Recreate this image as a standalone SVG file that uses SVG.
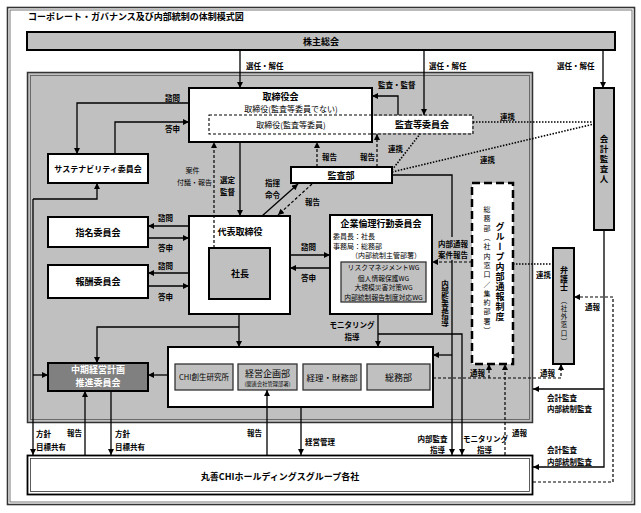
<svg xmlns="http://www.w3.org/2000/svg" width="641" height="513" viewBox="0 0 641 513">
<style>
text { font-family: "Noto Sans CJK JP", "Noto Sans CJK SC", sans-serif; fill:#000; }
.b { font-weight: bold; }
.m { text-anchor: middle; }
.box { fill:#fff; stroke:#000; stroke-width:2; }
.gbox { fill:#c0c0c0; stroke:#000; stroke-width:2; }
.sub { fill:#c0c0c0; stroke:#333; stroke-width:1.3; }
.ln { fill:none; stroke:#000; stroke-width:1.3; }
.dash { fill:none; stroke:#000; stroke-width:1.2; stroke-dasharray:3 2; }
.dot { fill:none; stroke:#000; stroke-width:1.6; stroke-dasharray:1.5 1.5; }
.lbl { font-size:7.5px; font-weight:bold; }
.v { writing-mode: vertical-rl; }
</style>
<defs>
<marker id="ah" viewBox="0 0 10 10" refX="10" refY="5" markerWidth="7" markerHeight="6" markerUnits="userSpaceOnUse" orient="auto">
<path d="M0,0 L10,5 L0,10 z" fill="#000"/>
</marker>
</defs>

<!-- frame -->
<rect x="7.5" y="7.5" width="627" height="497" fill="#fff" stroke="#333" stroke-width="1.6"/>
<rect x="10" y="10" width="622" height="492" fill="none" stroke="#555" stroke-width="0.8"/>
<text x="28" y="20" font-size="9" class="b">コーポレート・ガバナンス及び内部統制の体制模式図</text>

<!-- gray region -->
<rect x="27.5" y="72.5" width="505" height="350" fill="#c0c0c0" stroke="#333" stroke-width="1.5"/>
<rect x="30.5" y="75.5" width="499" height="344" fill="none" stroke="#555" stroke-width="0.8"/>

<g id="shareholders">
<rect x="27" y="32" width="588" height="18" class="gbox"/>
<text x="321" y="44.5" font-size="9" class="b m">株主総会</text>
</g>

<g id="board">
<rect x="189" y="88" width="183" height="54" class="box"/>
<text x="280.5" y="99.5" font-size="9" class="b m">取締役会</text>
<text x="291" y="112" font-size="8" class="m">取締役(監査等委員でない)</text>
</g>

<g id="audit-committee">
<rect x="373" y="116" width="99" height="17" fill="#fff"/>
<rect x="209" y="115" width="264" height="19" fill="none" stroke="#000" stroke-width="1.1" stroke-dasharray="3 2"/>
<text x="291" y="127.5" font-size="8" class="m">取締役(監査等委員)</text>
<text x="422" y="128" font-size="9" class="b m">監査等委員会</text>
</g>

<g id="accounting-auditor">
<rect x="594" y="88" width="20" height="142" class="gbox"/>
<text x="604" y="135" font-size="8.5" class="b v" letter-spacing="1.5">会計監査人</text>
</g>

<g id="sustainability">
<rect x="48" y="154" width="100" height="29" class="box"/>
<text x="98" y="171.5" font-size="8" class="b m">サステナビリティ委員会</text>
</g>

<g id="nomination">
<rect x="48" y="217" width="100" height="30" class="box"/>
<text x="98" y="235.5" font-size="9" class="b m">指名委員会</text>
</g>

<g id="remuneration">
<rect x="48" y="265" width="100" height="33" class="box"/>
<text x="98" y="284.5" font-size="9" class="b m">報酬委員会</text>
</g>

<g id="representative">
<rect x="189" y="216" width="101" height="98" class="box"/>
<text x="240" y="235" font-size="9" class="b m">代表取締役</text>
<rect x="209" y="248" width="61" height="51" class="gbox" stroke-width="1.5"/>
<text x="240" y="277" font-size="9" class="b m">社長</text>
</g>

<g id="audit-dept">
<rect x="291" y="167" width="101" height="16" class="box"/>
<text x="341" y="178.5" font-size="9" class="b m">監査部</text>
</g>

<g id="ethics-committee">
<rect x="330" y="215" width="102" height="99" class="box"/>
<text x="381" y="226.5" font-size="9" class="b m">企業倫理行動委員会</text>
<text x="333" y="238.5" font-size="7">委員長：社長</text>
<text x="333" y="248.5" font-size="7">事務局：総務部</text>
<text x="386" y="258" font-size="7" class="m">（内部統制主管部署）</text>
<rect x="341" y="262" width="85" height="40" class="sub"/>
<text x="383.5" y="270" font-size="6.8" class="m">リスクマネジメントWG</text>
<text x="383.5" y="280.5" font-size="6.8" class="m">個人情報保護WG</text>
<text x="383.5" y="290" font-size="6.8" class="m">大規模災害対策WG</text>
<text x="383.5" y="299.5" font-size="6.8" class="m">内部統制報告制度対応WG</text>
</g>

<g id="midterm-plan">
<rect x="48" y="363" width="100" height="28" fill="#808080" stroke="#000" stroke-width="2"/>
<text x="98" y="373" font-size="9" class="b m" style="fill:#fff">中期経営計画</text>
<text x="98" y="386" font-size="9" class="b m" style="fill:#fff">推進委員会</text>
</g>

<g id="departments">
<rect x="168" y="347" width="265" height="60" class="box"/>
<rect x="175" y="364" width="58" height="26" class="sub"/>
<text x="204" y="380" font-size="7.5" class="m">CHI創生研究所</text>
<rect x="238" y="364" width="59" height="26" class="sub"/>
<text x="267.5" y="376.5" font-size="9" class="m">経営企画部</text>
<text x="267.5" y="386" font-size="5.3" class="m">(関連会社管理部署)</text>
<rect x="303" y="364" width="58" height="26" class="sub"/>
<text x="332" y="380.5" font-size="8.5" class="m">経理・財務部</text>
<rect x="367" y="364" width="63" height="26" class="sub"/>
<text x="398.5" y="380.5" font-size="9" class="m">総務部</text>
</g>

<g id="whistleblowing">
<rect x="472" y="183" width="41" height="181" fill="#fff" stroke="#000" stroke-width="2.5" stroke-dasharray="8 4"/>
<text x="487" y="206" font-size="7" class="v" letter-spacing="2.3">総務部（社内窓口／集約部署）</text>
<text x="500" y="222" font-size="9" class="b v" letter-spacing="1">グループ内部通報制度</text>
</g>

<g id="lawyer">
<rect x="553" y="248" width="21" height="116" class="gbox"/>
<text x="564" y="266" font-size="8" class="b v" letter-spacing="0.5">弁護士</text>
<text x="564" y="297" font-size="6.5" class="v" letter-spacing="1.7">（社外窓口）</text>
</g>

<g id="group-companies">
<rect x="27.5" y="455.5" width="505" height="39" fill="#fff" stroke="#000" stroke-width="1.8"/>
<rect x="30.5" y="458.5" width="499" height="33" fill="none" stroke="#333" stroke-width="0.8"/>
<text x="280" y="479.5" font-size="9" class="b m">丸善CHIホールディングスグループ各社</text>
</g>

<g id="connectors">
<!-- shareholders -->
<path d="M240,50 V88" class="ln" marker-end="url(#ah)"/>
<path d="M424,50 V115" class="ln" marker-end="url(#ah)"/>
<path d="M603,50 V88" class="ln" marker-end="url(#ah)"/>
<text x="246" y="69" class="lbl">選任・解任</text>
<text x="429" y="69" class="lbl">選任・解任</text>
<text x="557" y="69" class="lbl">選任・解任</text>
<!-- audit committee -->
<path d="M398,115 V96 H372" class="ln" marker-end="url(#ah)"/>
<text x="378" y="88" class="lbl">監査・監督</text>
<path d="M473,122 H594" class="dot"/>
<text x="500" y="120" class="lbl">連携</text>
<path d="M392,172 L594,124" class="dot"/>
<text x="480" y="163" class="lbl">連携</text>
<path d="M392,170 L420,134" class="dot"/>
<text x="388" y="152" class="lbl">連携</text>
<!-- audit dept reports -->
<path d="M317,167 V142" class="dash" marker-end="url(#ah)"/>
<text x="322" y="160" class="lbl">報告</text>
<path d="M377,167 V134" class="dash" marker-end="url(#ah)"/>
<text x="360" y="160" class="lbl">報告</text>
<!-- board <-> representative -->
<path d="M214,248 V142" class="dash" marker-end="url(#ah)"/>
<text x="192.5" y="173" font-size="7" class="m">案件</text>
<text x="194.5" y="184.5" font-size="7" class="m">付議・報告</text>
<path d="M240,142 V216" class="ln" marker-end="url(#ah)"/>
<text x="220" y="183" class="lbl">選定</text>
<text x="220" y="194.5" class="lbl">監督</text>
<path d="M262,216 L298,184" class="ln" marker-end="url(#ah)"/>
<text x="265" y="186" class="lbl">指揮</text>
<text x="265" y="197.5" class="lbl">命令</text>
<path d="M312,184 L278,215" class="dash" marker-end="url(#ah)"/>
<text x="305" y="205" class="lbl">報告</text>
<!-- sustainability -->
<path d="M189,103 H77 V154" class="ln" marker-end="url(#ah)"/>
<text x="165" y="101" class="lbl">諮問</text>
<path d="M115,154 V122 H189" class="ln" marker-end="url(#ah)"/>
<text x="165" y="131.5" class="lbl">答申</text>
<path d="M33,199 H97 V183" class="ln" marker-end="url(#ah)"/>
<path d="M33,199 V455" class="ln" marker-end="url(#ah)"/>
<path d="M33,375 H48" class="ln" marker-end="url(#ah)"/>
<text x="36" y="437" class="lbl">方針</text>
<text x="36" y="450" class="lbl">目標共有</text>
<!-- nomination / remuneration -->
<path d="M189,226 H148" class="ln" marker-end="url(#ah)"/>
<text x="158" y="221" class="lbl">諮問</text>
<path d="M148,238 H189" class="ln" marker-end="url(#ah)"/>
<text x="158" y="251" class="lbl">答申</text>
<path d="M189,273 H148" class="ln" marker-end="url(#ah)"/>
<text x="158" y="268.5" class="lbl">諮問</text>
<path d="M148,286 H189" class="ln" marker-end="url(#ah)"/>
<text x="158" y="300" class="lbl">答申</text>
<!-- ethics committee -->
<path d="M290,255 H330" class="ln" marker-end="url(#ah)"/>
<text x="301" y="250" class="lbl">諮問</text>
<path d="M330,268 H290" class="ln" marker-end="url(#ah)"/>
<text x="301" y="281" class="lbl">答申</text>
<!-- representative -> departments / midterm -->
<path d="M239,314 V347" class="ln" marker-end="url(#ah)"/>
<path d="M239,327 H97 V363" class="ln" marker-end="url(#ah)"/>
<path d="M168,375 H148" class="ln" marker-end="url(#ah)"/>
<!-- midterm <-> group -->
<path d="M111,391 V455" class="ln" marker-end="url(#ah)"/>
<text x="115" y="437" class="lbl">方針</text>
<text x="115" y="450" class="lbl">目標共有</text>
<path d="M85,455 V391" class="ln" marker-end="url(#ah)"/>
<text x="67" y="436" class="lbl">報告</text>
<path d="M267,455 V390" class="ln" marker-end="url(#ah)"/>
<text x="247" y="436" class="lbl">報告</text>
<path d="M301,407 V455" class="ln" marker-end="url(#ah)"/>
<text x="305" y="445" class="lbl">経営管理</text>
<!-- monitoring -->
<path d="M378,314 V347" class="ln" marker-end="url(#ah)"/>
<text x="352" y="328" class="lbl m">モニタリング</text>
<text x="352" y="339.5" class="lbl m">指導</text>
<path d="M378,334 H462 V455" class="ln" marker-end="url(#ah)"/>
<text x="463" y="441.5" class="lbl">モニタリング</text>
<text x="477" y="452.5" class="lbl">指導</text>
<!-- internal audit -->
<path d="M392,175 H452 V455" class="ln" marker-end="url(#ah)"/>
<path d="M452,355 H433" class="ln" marker-end="url(#ah)"/>
<text x="445" y="280" class="lbl v" letter-spacing="0.3">内部監査指導</text>
<text x="432.5" y="441.5" class="lbl m">内部監査</text>
<text x="437.5" y="452.5" class="lbl m">指導</text>
<!-- whistleblowing report -->
<rect x="436" y="237" width="35" height="23" fill="#c0c0c0"/>
<text x="453" y="246.5" class="lbl m">内部通報</text>
<text x="453" y="257.5" class="lbl m">案件報告</text>
<path d="M472,262 H432" class="dash" marker-end="url(#ah)"/>
<path d="M433,378 H561 V364" class="dash" marker-end="url(#ah)"/>
<path d="M489,378 V364" class="dash" marker-end="url(#ah)"/>
<text x="470" y="375.5" class="lbl">通報</text>
<text x="540" y="375.5" class="lbl">通報</text>
<path d="M505,455 V364" class="dash" marker-end="url(#ah)"/>
<text x="512" y="436" class="lbl">通報</text>
<path d="M513,264 H553" class="dot"/>
<text x="536" y="278" class="lbl">連携</text>
<path d="M533,482 H613 V297 H574" class="dash" marker-end="url(#ah)"/>
<text x="585" y="310" class="lbl">通報</text>
<!-- accounting auditor -->
<path d="M604,230 V467 H533" class="ln" marker-end="url(#ah)"/>
<path d="M604,389 H533" class="ln" marker-end="url(#ah)"/>
<text x="547" y="401" class="lbl">会計監査</text>
<text x="547" y="412" class="lbl">内部統制監査</text>
<text x="547" y="453" class="lbl">会計監査</text>
<text x="547" y="465" class="lbl">内部統制監査</text>
</g>
</svg>
